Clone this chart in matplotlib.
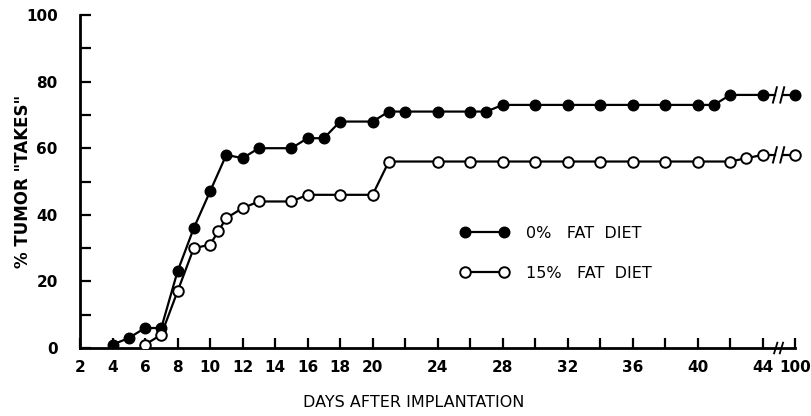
import numpy as np
import matplotlib
matplotlib.use("Agg")
import matplotlib.pyplot as plt

plt.rcParams['font.family'] = ['DejaVu Sans']

# day 100 is drawn past the axis break, at the slot of day 46
BREAK_POS = 46

days_0 = [4, 5, 6, 7, 8, 9, 10, 11, 12, 13, 15, 16, 17, 18, 20, 21, 22, 24, 26, 27,
          28, 30, 32, 34, 36, 38, 40, 41, 42, 44, 100]
takes_0 = [1, 3, 6, 6, 23, 36, 47, 58, 57, 60, 60, 63, 63, 68, 68, 71, 71, 71, 71, 71,
           73, 73, 73, 73, 73, 73, 73, 73, 76, 76, 76]

days_15 = [6, 7, 8, 9, 10, 10.5, 11, 12, 13, 15, 16, 18, 20, 21, 24, 26, 28, 30, 32, 34,
           36, 38, 40, 42, 43, 44, 100]
takes_15 = [1, 4, 17, 30, 31, 35, 39, 42, 44, 44, 46, 46, 46, 56, 56, 56, 56, 56, 56, 56,
            56, 56, 56, 56, 57, 58, 58]

xtick_labels = ["2", "4", "6", "8", "10", "12", "14", "16", "18", "20",
                "24", "28", "32", "36", "40", "44", "100"]
labels = ["0%   FAT  DIET", "15%   FAT  DIET"]


def to_axis(d):
    d = np.asarray(d, dtype=float)
    return np.where(d > 44, BREAK_POS, d)


fig = plt.figure(figsize=(8.11, 4.16), dpi=100)
ax = fig.add_axes([80 / 811, 1 - 348 / 416, 725 / 811, 333 / 416])

lw = 1.6
ms = 7.6
styles = [dict(mfc="black", mec="black"), dict(mfc="white", mec="black", mew=1.4)]

for (days, takes), st, lab in zip([(days_0, takes_0), (days_15, takes_15)], styles, labels):
    x = to_axis(days)
    y = np.asarray(takes, dtype=float)
    main = x <= 44
    ax.plot(x[main], y[main], "-o", color="black", lw=lw, ms=ms, label=lab, zorder=3, **st)
    # broken segment up to day 100
    x0, y0 = x[main][-1], y[main][-1]
    x1, y1 = x[-1], y[-1]
    ax.plot([x0, 44.75], [y0, y0], color="black", lw=lw, zorder=2)
    ax.plot([45.3, x1], [y1, y1], color="black", lw=lw, zorder=2)
    for sx in (44.75, 45.2):
        ax.plot([sx - 0.12, sx + 0.12], [y0 - 2.3, y0 + 2.3], color="black", lw=1.4, zorder=2)
    ax.plot([x1], [y1], "o", color="black", ms=ms, zorder=3, **st)

ax.set_xlim(2, 46.6)
ax.set_ylim(0, 100)

for s in ("top", "right"):
    ax.spines[s].set_visible(False)
ax.spines["left"].set_linewidth(2)
ax.spines["bottom"].set_linewidth(2)
ax.spines["bottom"].set_bounds(2, 46)
ax.spines["left"].set_bounds(0, 100)

# x axis break marks
for sx in (44.8, 45.15):
    ax.plot([sx - 0.1, sx + 0.1], [-1.6, 1.6], color="black", lw=1.3, clip_on=False, zorder=4)

xpos = [int(t) for t in xtick_labels[:-1]] + [BREAK_POS]
ax.set_xticks(xpos)
ax.set_xticklabels(xtick_labels, fontsize=11, fontweight="bold")
ax.set_xticks(list(range(22, 43, 4)), minor=True)
ax.tick_params(axis="x", which="both", direction="in", length=7, width=1.6, pad=9)

ax.set_yticks(range(0, 101, 10))
ax.set_yticklabels([str(v) if v % 20 == 0 else "" for v in range(0, 101, 10)],
                   fontsize=11, fontweight="bold")
ax.tick_params(axis="y", direction="in", length=8, width=1.6, pad=16)

ax.set_xlabel("DAYS AFTER IMPLANTATION", fontsize=11.5)
ax.xaxis.set_label_coords(0.46, -0.14)
ax.set_ylabel('% TUMOR "TAKES"', fontsize=12, fontweight="bold")
ax.yaxis.set_label_coords(-0.066, 0.5)

leg = ax.legend(loc="upper left", bbox_to_anchor=(0.505, 0.41), frameon=False, numpoints=2,
                handlelength=3.0, labelspacing=1.55, fontsize=11.5, handletextpad=1.1)

fig.savefig("out.png", dpi=100)
